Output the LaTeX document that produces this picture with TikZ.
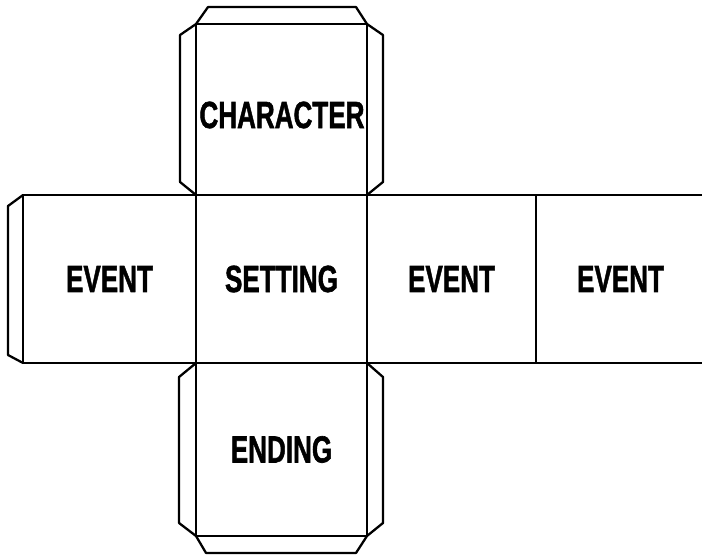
\documentclass[tikz,border=0pt]{standalone}
\usepackage{fontspec}
\setmainfont{Liberation Sans}
\newfontfamily\heavy[BoldFeatures={FakeBold=1.6}]{Liberation Sans}
\tikzset{
  lbl/.style={font=\heavy\fontsize{21.5}{24}\selectfont\bfseries},
  panel/.style={draw, line width=1.3pt, rectangle, inner sep=0pt, outer sep=0pt,
    minimum width=#1*0.02cm, minimum height=3.36cm, lbl},
  sq/.style={draw, line width=1.3pt, rectangle, inner sep=0pt, outer sep=0pt,
    minimum width=3.42cm, minimum height=3.42cm, lbl},
  flap/.style={draw, line width=1.3pt, line join=round}
}
\newcommand{\cnd}[1]{\scalebox{0.69}[1]{#1}}
\begin{document}
\begin{tikzpicture}[x=0.02cm, y=-0.02cm]
\useasboundingbox (0,0) rectangle (702,554);
\clip (0,0) rectangle (702,554);
% main strip
\node[panel=173] (left) at (109.5,279) {\cnd{EVENT}};
\node[panel=171] (mid) at (281.5,279) {\cnd{SETTING}};
\node[panel=169] (r1) at (451.5,279) {\cnd{EVENT}};
\node[panel=169] (r2) at (620.5,279) {\cnd{EVENT}};
% top and bottom squares
\node[sq, minimum height=3.42cm] (top) at (281.5,109.5) {};
\node[lbl] (toptext) at (282,115) {\cnd{CHARACTER}};
\node[sq, minimum height=3.46cm] (bot) at (281.5,449.5) {\cnd{ENDING}};
% flaps
\draw[flap] (top.north west) -- ++(12,-17) -- ([xshift=-11*0.02cm, yshift=17*0.02cm]top.north east) -- (top.north east);
\draw[flap] (top.north west) -- ++(-16,11) -- ([xshift=-16*0.02cm, yshift=13*0.02cm]top.south west) -- (top.south west);
\draw[flap] (top.north east) -- ++(16,11) -- ([xshift=16*0.02cm, yshift=13*0.02cm]top.south east) -- (top.south east);
\draw[flap] (left.north west) -- ++(-15,11) -- ([xshift=-15*0.02cm, yshift=8*0.02cm]left.south west) -- (left.south west);
\draw[flap] (bot.north west) -- ++(-17,14) -- ([xshift=-17*0.02cm, yshift=13*0.02cm]bot.south west) -- (bot.south west);
\draw[flap] (bot.north east) -- ++(16,14) -- ([xshift=16*0.02cm, yshift=13*0.02cm]bot.south east) -- (bot.south east);
\draw[flap] (bot.south west) -- ++(10,17) -- ([xshift=-11*0.02cm, yshift=-17*0.02cm]bot.south east) -- (bot.south east);
\end{tikzpicture}
\end{document}
